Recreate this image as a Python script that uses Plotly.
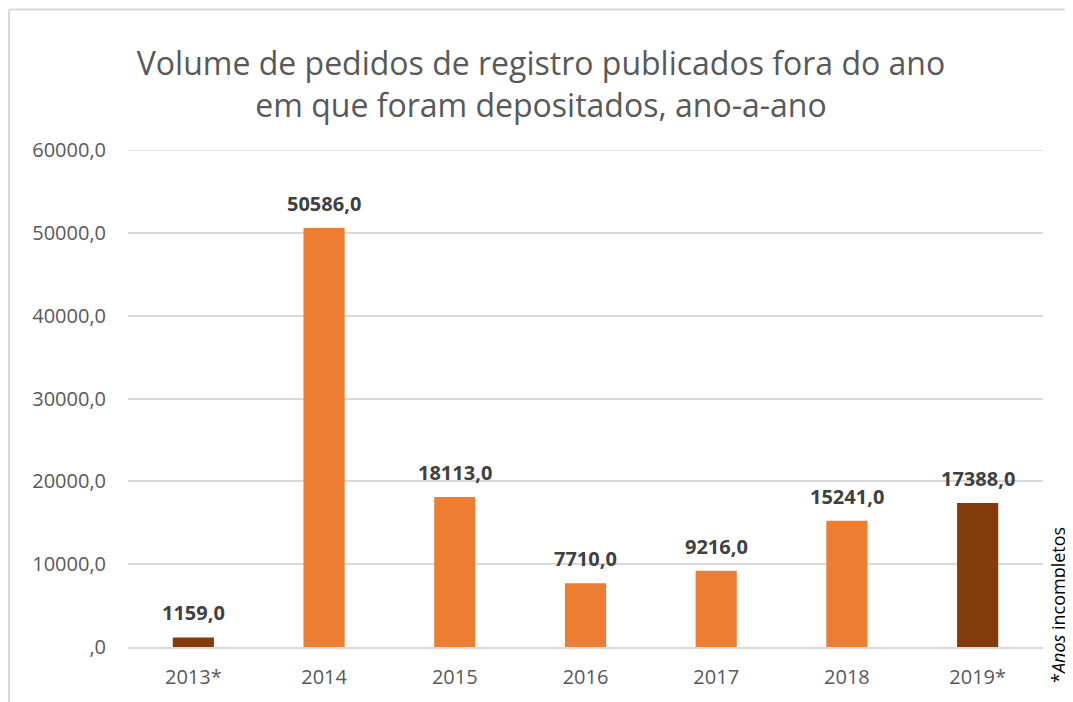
import plotly.graph_objects as go

categories = ["2013*", "2014", "2015", "2016", "2017", "2018", "2019*"]
values = [1159.0, 50586.0, 18113.0, 7710.0, 9216.0, 15241.0, 17388.0]
incomplete = [True, False, False, False, False, False, True]
tick_vals = [0, 10000, 20000, 30000, 40000, 50000, 60000]
tick_labels = [",0", "10000,0", "20000,0", "30000,0", "40000,0", "50000,0", "60000,0"]

ORANGE = "#ED7D31"
BROWN = "#843C0C"
GRID = "#d9d9d9"
colors = [BROWN if inc else ORANGE for inc in incomplete]
labels = [f"{v:.1f}".replace(".", ",") for v in values]

FONT = "Open Sans"

# page body adds an 8px offset; work in target-page pixels and convert
OFF = 8
W, H = 1073 - OFF, 702 - OFF
PL, PR, PT, PB = 128, 1043, 150, 647  # plot area in page pixels
ml, mr, mt, mb = PL - OFF, 1073 - PR, PT - OFF, H - (PB - OFF)
pw, ph = W - ml - mr, H - mt - mb


def px2x(p):
    return (p - OFF - ml) / pw


def py2y(p):
    return (H - mb - (p - OFF)) / ph


fig = go.Figure(go.Bar(
    x=categories, y=values, marker_color=colors, marker_line_width=0,
    width=0.315, hoverinfo="x+y",
))

# category axis: annotation x given as the category's index
label_annotations = [
    dict(x=i, y=v, text=f"<b>{t}</b>", xref="x", yref="y",
         xanchor="center", yanchor="bottom", yshift=9, showarrow=False,
         font=dict(family=FONT, size=20, color="#404040"))
    for i, (v, t) in enumerate(zip(values, labels))
]

fig.update_layout(
    width=W, height=H,
    margin=dict(l=ml, r=mr, t=mt, b=mb, pad=0),
    paper_bgcolor="white", plot_bgcolor="white",
    showlegend=False,
    title=dict(
        text="Volume de pedidos de registro publicados fora do ano<br>em que foram depositados, ano-a-ano",
        x=(541 - OFF) / W, xanchor="center", y=1 - (75 - OFF) / H, yanchor="middle",
        font=dict(family=FONT, size=32, color="#595959"),
    ),
    xaxis=dict(
        type="category", categoryorder="array", categoryarray=categories,
        range=[-0.5, len(categories) - 0.5],
        tickfont=dict(family=FONT, size=20, color="#595959"),
        showgrid=False, showline=True, linecolor=GRID, linewidth=1.5,
        ticks="", ticklabelstandoff=11,
    ),
    yaxis=dict(
        range=[0, 60000], tickvals=tick_vals, ticktext=tick_labels,
        tickfont=dict(family=FONT, size=20, color="#595959"),
        showgrid=True, gridcolor=GRID, gridwidth=1.5,
        zeroline=False, showline=False, ticks="", ticklabelstandoff=21,
    ),
    shapes=[
        # top gridline (edge of range)
        dict(type="line", xref="paper", yref="y",
             x0=0, x1=1, y0=tick_vals[-1], y1=tick_vals[-1],
             line=dict(color=GRID, width=1.5), layer="below"),
        # chart frame
        dict(type="line", xref="paper", yref="paper",
             x0=px2x(9), x1=px2x(1080), y0=py2y(9.5), y1=py2y(9.5),
             line=dict(color=GRID, width=2)),
        dict(type="line", xref="paper", yref="paper",
             x0=px2x(9), x1=px2x(9), y0=py2y(9.5), y1=py2y(710),
             line=dict(color=GRID, width=2)),
    ],
    annotations=label_annotations + [
        dict(text="*<i>Anos</i> incompletos", xref="paper", yref="paper",
             x=px2x(1058), y=py2y(605), xanchor="center", yanchor="middle",
             textangle=-90, showarrow=False,
             font=dict(family=FONT, size=18, color="#000000")),
    ],
)

fig.write_html("out.html")
